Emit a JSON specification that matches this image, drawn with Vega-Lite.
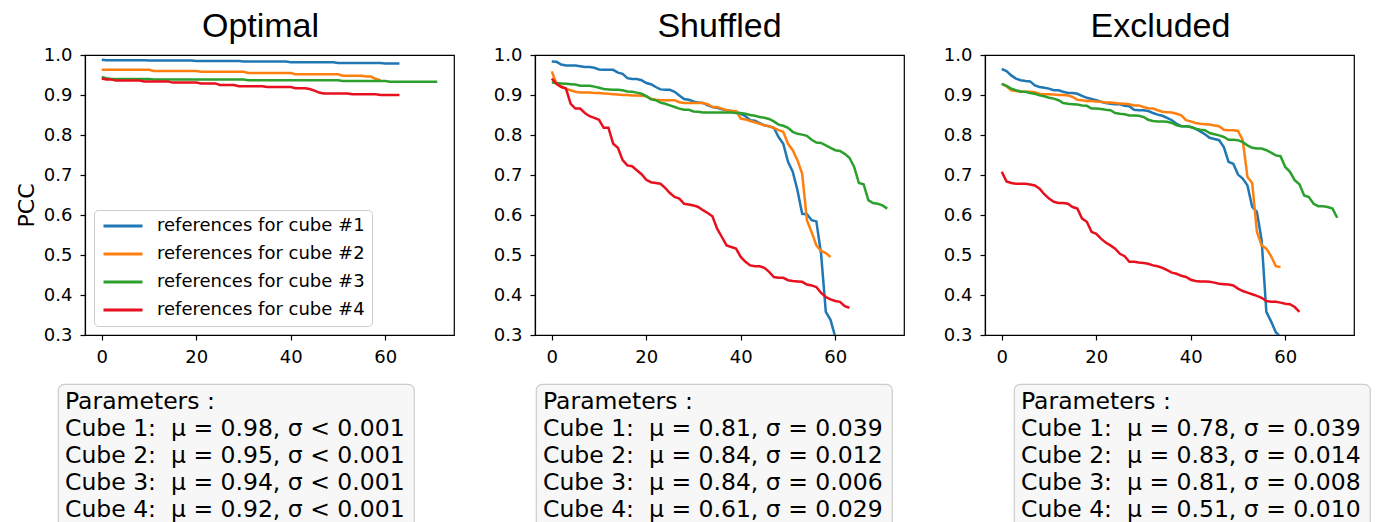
{
"$schema": "https://vega.github.io/schema/vega-lite/v6.json",
"padding": {"top": 9, "left": 13, "right": 0, "bottom": 0},
"config": {
 "font": "DejaVu Sans",
 "view": {"stroke": "black", "strokeWidth": 1.2},
 "axis": {"domainColor": "black", "domainWidth": 1.2, "tickColor": "black", "tickWidth": 1.2, "tickSize": 5, "labelFont": "DejaVu Sans", "labelFontSize": 18, "labelColor": "black", "labelPadding": 8, "labelFlush": false, "grid": false, "titleFont": "DejaVu Sans", "titleFontSize": 22, "titleFontWeight": "normal", "titleColor": "black"},
 "title": {"font": "Liberation Sans", "fontSize": 34, "fontWeight": "normal", "color": "black", "baseline": "alphabetic", "offset": 2}
},
"datasets": {
"lines": [
{"p":"O","i":0,"1":0.988,"2":0.963,"3":0.945,"4":0.941},
{"p":"O","i":1,"1":0.987,"2":0.963,"3":0.942,"4":0.939},
{"p":"O","i":2,"1":0.987,"2":0.963,"3":0.940,"4":0.939},
{"p":"O","i":3,"1":0.987,"2":0.963,"3":0.940,"4":0.936},
{"p":"O","i":4,"1":0.987,"2":0.963,"3":0.940,"4":0.936},
{"p":"O","i":5,"1":0.987,"2":0.963,"3":0.940,"4":0.936},
{"p":"O","i":6,"1":0.987,"2":0.963,"3":0.940,"4":0.936},
{"p":"O","i":7,"1":0.987,"2":0.963,"3":0.940,"4":0.936},
{"p":"O","i":8,"1":0.987,"2":0.963,"3":0.940,"4":0.936},
{"p":"O","i":9,"1":0.987,"2":0.963,"3":0.940,"4":0.934},
{"p":"O","i":10,"1":0.986,"2":0.963,"3":0.940,"4":0.934},
{"p":"O","i":11,"1":0.986,"2":0.960,"3":0.939,"4":0.934},
{"p":"O","i":12,"1":0.986,"2":0.960,"3":0.939,"4":0.934},
{"p":"O","i":13,"1":0.986,"2":0.960,"3":0.939,"4":0.934},
{"p":"O","i":14,"1":0.986,"2":0.960,"3":0.939,"4":0.934},
{"p":"O","i":15,"1":0.986,"2":0.960,"3":0.939,"4":0.931},
{"p":"O","i":16,"1":0.986,"2":0.960,"3":0.939,"4":0.931},
{"p":"O","i":17,"1":0.986,"2":0.960,"3":0.939,"4":0.931},
{"p":"O","i":18,"1":0.986,"2":0.960,"3":0.939,"4":0.931},
{"p":"O","i":19,"1":0.986,"2":0.960,"3":0.939,"4":0.931},
{"p":"O","i":20,"1":0.985,"2":0.960,"3":0.939,"4":0.931},
{"p":"O","i":21,"1":0.985,"2":0.958,"3":0.939,"4":0.929},
{"p":"O","i":22,"1":0.985,"2":0.958,"3":0.939,"4":0.929},
{"p":"O","i":23,"1":0.985,"2":0.958,"3":0.939,"4":0.929},
{"p":"O","i":24,"1":0.985,"2":0.958,"3":0.939,"4":0.929},
{"p":"O","i":25,"1":0.985,"2":0.958,"3":0.939,"4":0.925},
{"p":"O","i":26,"1":0.985,"2":0.958,"3":0.939,"4":0.925},
{"p":"O","i":27,"1":0.985,"2":0.958,"3":0.939,"4":0.925},
{"p":"O","i":28,"1":0.985,"2":0.958,"3":0.939,"4":0.925},
{"p":"O","i":29,"1":0.985,"2":0.958,"3":0.939,"4":0.922},
{"p":"O","i":30,"1":0.984,"2":0.958,"3":0.939,"4":0.922},
{"p":"O","i":31,"1":0.984,"2":0.955,"3":0.937,"4":0.922},
{"p":"O","i":32,"1":0.984,"2":0.955,"3":0.937,"4":0.922},
{"p":"O","i":33,"1":0.984,"2":0.955,"3":0.937,"4":0.922},
{"p":"O","i":34,"1":0.984,"2":0.955,"3":0.937,"4":0.922},
{"p":"O","i":35,"1":0.984,"2":0.955,"3":0.937,"4":0.920},
{"p":"O","i":36,"1":0.984,"2":0.955,"3":0.937,"4":0.920},
{"p":"O","i":37,"1":0.984,"2":0.955,"3":0.937,"4":0.920},
{"p":"O","i":38,"1":0.984,"2":0.955,"3":0.937,"4":0.920},
{"p":"O","i":39,"1":0.984,"2":0.955,"3":0.937,"4":0.920},
{"p":"O","i":40,"1":0.982,"2":0.955,"3":0.937,"4":0.920},
{"p":"O","i":41,"1":0.982,"2":0.952,"3":0.937,"4":0.917},
{"p":"O","i":42,"1":0.982,"2":0.952,"3":0.937,"4":0.917},
{"p":"O","i":43,"1":0.982,"2":0.952,"3":0.937,"4":0.917},
{"p":"O","i":44,"1":0.982,"2":0.952,"3":0.937,"4":0.915},
{"p":"O","i":45,"1":0.982,"2":0.952,"3":0.937,"4":0.911},
{"p":"O","i":46,"1":0.982,"2":0.952,"3":0.937,"4":0.906},
{"p":"O","i":47,"1":0.982,"2":0.952,"3":0.937,"4":0.904},
{"p":"O","i":48,"1":0.982,"2":0.952,"3":0.937,"4":0.904},
{"p":"O","i":49,"1":0.982,"2":0.952,"3":0.937,"4":0.904},
{"p":"O","i":50,"1":0.980,"2":0.952,"3":0.937,"4":0.904},
{"p":"O","i":51,"1":0.980,"2":0.948,"3":0.935,"4":0.904},
{"p":"O","i":52,"1":0.980,"2":0.948,"3":0.935,"4":0.904},
{"p":"O","i":53,"1":0.980,"2":0.948,"3":0.935,"4":0.902},
{"p":"O","i":54,"1":0.980,"2":0.948,"3":0.935,"4":0.902},
{"p":"O","i":55,"1":0.980,"2":0.948,"3":0.935,"4":0.902},
{"p":"O","i":56,"1":0.980,"2":0.946,"3":0.935,"4":0.902},
{"p":"O","i":57,"1":0.980,"2":0.946,"3":0.935,"4":0.902},
{"p":"O","i":58,"1":0.980,"2":0.940,"3":0.935,"4":0.902},
{"p":"O","i":59,"1":0.980,"2":0.937,"3":0.935,"4":0.900},
{"p":"O","i":60,"1":0.979,"3":0.935,"4":0.900},
{"p":"O","i":61,"1":0.979,"3":0.933,"4":0.900},
{"p":"O","i":62,"1":0.979,"3":0.933,"4":0.900},
{"p":"O","i":63,"1":0.979,"3":0.933,"4":0.900},
{"p":"O","i":64,"3":0.933},
{"p":"O","i":65,"3":0.933},
{"p":"O","i":66,"3":0.933},
{"p":"O","i":67,"3":0.933},
{"p":"O","i":68,"3":0.933},
{"p":"O","i":69,"3":0.933},
{"p":"O","i":70,"3":0.933},
{"p":"O","i":71,"3":0.933},
{"p":"S","i":0,"1":0.984,"2":0.959,"3":0.931,"4":0.941},
{"p":"S","i":1,"1":0.983,"2":0.928,"3":0.930,"4":0.928},
{"p":"S","i":2,"1":0.976,"2":0.922,"3":0.929,"4":0.920},
{"p":"S","i":3,"1":0.974,"2":0.916,"3":0.928,"4":0.916},
{"p":"S","i":4,"1":0.974,"2":0.912,"3":0.927,"4":0.878},
{"p":"S","i":5,"1":0.974,"2":0.908,"3":0.926,"4":0.866},
{"p":"S","i":6,"1":0.972,"2":0.906,"3":0.923,"4":0.866},
{"p":"S","i":7,"1":0.970,"2":0.906,"3":0.923,"4":0.855},
{"p":"S","i":8,"1":0.970,"2":0.906,"3":0.923,"4":0.847},
{"p":"S","i":9,"1":0.968,"2":0.905,"3":0.921,"4":0.843},
{"p":"S","i":10,"1":0.964,"2":0.905,"3":0.918,"4":0.838},
{"p":"S","i":11,"1":0.963,"2":0.904,"3":0.915,"4":0.818},
{"p":"S","i":12,"1":0.963,"2":0.903,"3":0.914,"4":0.818},
{"p":"S","i":13,"1":0.963,"2":0.902,"3":0.913,"4":0.778},
{"p":"S","i":14,"1":0.956,"2":0.901,"3":0.913,"4":0.768},
{"p":"S","i":15,"1":0.953,"2":0.900,"3":0.912,"4":0.737},
{"p":"S","i":16,"1":0.942,"2":0.900,"3":0.909,"4":0.724},
{"p":"S","i":17,"1":0.940,"2":0.899,"3":0.908,"4":0.722},
{"p":"S","i":18,"1":0.940,"2":0.899,"3":0.906,"4":0.712},
{"p":"S","i":19,"1":0.937,"2":0.898,"3":0.903,"4":0.702},
{"p":"S","i":20,"1":0.930,"2":0.897,"3":0.897,"4":0.688},
{"p":"S","i":21,"1":0.927,"2":0.891,"3":0.889,"4":0.682},
{"p":"S","i":22,"1":0.920,"2":0.888,"3":0.887,"4":0.680},
{"p":"S","i":23,"1":0.914,"2":0.887,"3":0.881,"4":0.678},
{"p":"S","i":24,"1":0.913,"2":0.887,"3":0.878,"4":0.668},
{"p":"S","i":25,"1":0.913,"2":0.887,"3":0.874,"4":0.655},
{"p":"S","i":26,"1":0.908,"2":0.887,"3":0.870,"4":0.645},
{"p":"S","i":27,"1":0.899,"2":0.882,"3":0.866,"4":0.641},
{"p":"S","i":28,"1":0.890,"2":0.880,"3":0.863,"4":0.628},
{"p":"S","i":29,"1":0.888,"2":0.880,"3":0.863,"4":0.626},
{"p":"S","i":30,"1":0.884,"2":0.880,"3":0.859,"4":0.624},
{"p":"S","i":31,"1":0.881,"2":0.880,"3":0.858,"4":0.620},
{"p":"S","i":32,"1":0.880,"2":0.880,"3":0.856,"4":0.612},
{"p":"S","i":33,"1":0.874,"2":0.877,"3":0.856,"4":0.605},
{"p":"S","i":34,"1":0.870,"2":0.870,"3":0.856,"4":0.597},
{"p":"S","i":35,"1":0.868,"2":0.870,"3":0.856,"4":0.566},
{"p":"S","i":36,"1":0.864,"2":0.866,"3":0.856,"4":0.545},
{"p":"S","i":37,"1":0.862,"2":0.862,"3":0.856,"4":0.524},
{"p":"S","i":38,"1":0.860,"2":0.860,"3":0.856,"4":0.520},
{"p":"S","i":39,"1":0.858,"2":0.860,"3":0.855,"4":0.516},
{"p":"S","i":40,"1":0.853,"2":0.841,"3":0.855,"4":0.495},
{"p":"S","i":41,"1":0.847,"2":0.839,"3":0.853,"4":0.483},
{"p":"S","i":42,"1":0.837,"2":0.835,"3":0.850,"4":0.474},
{"p":"S","i":43,"1":0.836,"2":0.832,"3":0.848,"4":0.472},
{"p":"S","i":44,"1":0.830,"2":0.828,"3":0.845,"4":0.472},
{"p":"S","i":45,"1":0.824,"2":0.824,"3":0.843,"4":0.468},
{"p":"S","i":46,"1":0.822,"2":0.822,"3":0.840,"4":0.458},
{"p":"S","i":47,"1":0.818,"2":0.818,"3":0.834,"4":0.445},
{"p":"S","i":48,"1":0.795,"2":0.812,"3":0.826,"4":0.443},
{"p":"S","i":49,"1":0.778,"2":0.808,"3":0.823,"4":0.443},
{"p":"S","i":50,"1":0.733,"2":0.778,"3":0.818,"4":0.437},
{"p":"S","i":51,"1":0.708,"2":0.762,"3":0.808,"4":0.435},
{"p":"S","i":52,"1":0.662,"2":0.737,"3":0.803,"4":0.434},
{"p":"S","i":53,"1":0.603,"2":0.703,"3":0.801,"4":0.433},
{"p":"S","i":54,"1":0.602,"2":0.587,"3":0.798,"4":0.426},
{"p":"S","i":55,"1":0.587,"2":0.557,"3":0.788,"4":0.424},
{"p":"S","i":56,"1":0.584,"2":0.524,"3":0.781,"4":0.420},
{"p":"S","i":57,"1":0.503,"2":0.510,"3":0.780,"4":0.405},
{"p":"S","i":58,"1":0.358,"2":0.505,"3":0.774,"4":0.395},
{"p":"S","i":59,"1":0.338,"2":0.495,"3":0.768,"4":0.389},
{"p":"S","i":60,"1":0.295,"3":0.762,"4":0.385},
{"p":"S","i":61,"1":0.280,"3":0.760,"4":0.383},
{"p":"S","i":62,"1":0.260,"3":0.753,"4":0.372},
{"p":"S","i":63,"1":0.240,"3":0.743,"4":0.368},
{"p":"S","i":64,"3":0.720},
{"p":"S","i":65,"3":0.680},
{"p":"S","i":66,"3":0.677},
{"p":"S","i":67,"3":0.637},
{"p":"S","i":68,"3":0.630},
{"p":"S","i":69,"3":0.628},
{"p":"S","i":70,"3":0.624},
{"p":"S","i":71,"3":0.616},
{"p":"E","i":0,"1":0.965,"2":0.928,"3":0.928,"4":0.708},
{"p":"E","i":1,"1":0.960,"2":0.922,"3":0.923,"4":0.684},
{"p":"E","i":2,"1":0.949,"2":0.912,"3":0.916,"4":0.680},
{"p":"E","i":3,"1":0.941,"2":0.910,"3":0.912,"4":0.678},
{"p":"E","i":4,"1":0.937,"2":0.908,"3":0.909,"4":0.678},
{"p":"E","i":5,"1":0.935,"2":0.908,"3":0.908,"4":0.678},
{"p":"E","i":6,"1":0.934,"2":0.908,"3":0.905,"4":0.676},
{"p":"E","i":7,"1":0.924,"2":0.907,"3":0.903,"4":0.674},
{"p":"E","i":8,"1":0.920,"2":0.903,"3":0.899,"4":0.666},
{"p":"E","i":9,"1":0.918,"2":0.902,"3":0.897,"4":0.652},
{"p":"E","i":10,"1":0.916,"2":0.902,"3":0.893,"4":0.641},
{"p":"E","i":11,"1":0.912,"2":0.901,"3":0.891,"4":0.633},
{"p":"E","i":12,"1":0.912,"2":0.900,"3":0.887,"4":0.630},
{"p":"E","i":13,"1":0.908,"2":0.900,"3":0.880,"4":0.630},
{"p":"E","i":14,"1":0.905,"2":0.899,"3":0.878,"4":0.628},
{"p":"E","i":15,"1":0.905,"2":0.895,"3":0.877,"4":0.620},
{"p":"E","i":16,"1":0.903,"2":0.888,"3":0.876,"4":0.616},
{"p":"E","i":17,"1":0.898,"2":0.887,"3":0.874,"4":0.591},
{"p":"E","i":18,"1":0.893,"2":0.885,"3":0.873,"4":0.583},
{"p":"E","i":19,"1":0.890,"2":0.885,"3":0.866,"4":0.558},
{"p":"E","i":20,"1":0.887,"2":0.884,"3":0.866,"4":0.553},
{"p":"E","i":21,"1":0.883,"2":0.883,"3":0.865,"4":0.541},
{"p":"E","i":22,"1":0.880,"2":0.881,"3":0.863,"4":0.531},
{"p":"E","i":23,"1":0.878,"2":0.881,"3":0.862,"4":0.524},
{"p":"E","i":24,"1":0.877,"2":0.880,"3":0.855,"4":0.516},
{"p":"E","i":25,"1":0.877,"2":0.879,"3":0.853,"4":0.503},
{"p":"E","i":26,"1":0.873,"2":0.878,"3":0.852,"4":0.497},
{"p":"E","i":27,"1":0.872,"2":0.877,"3":0.849,"4":0.483},
{"p":"E","i":28,"1":0.863,"2":0.874,"3":0.849,"4":0.483},
{"p":"E","i":29,"1":0.862,"2":0.874,"3":0.848,"4":0.481},
{"p":"E","i":30,"1":0.862,"2":0.870,"3":0.845,"4":0.480},
{"p":"E","i":31,"1":0.860,"2":0.867,"3":0.838,"4":0.478},
{"p":"E","i":32,"1":0.855,"2":0.866,"3":0.835,"4":0.474},
{"p":"E","i":33,"1":0.851,"2":0.862,"3":0.834,"4":0.472},
{"p":"E","i":34,"1":0.848,"2":0.858,"3":0.834,"4":0.468},
{"p":"E","i":35,"1":0.843,"2":0.857,"3":0.833,"4":0.462},
{"p":"E","i":36,"1":0.837,"2":0.856,"3":0.830,"4":0.456},
{"p":"E","i":37,"1":0.828,"2":0.853,"3":0.824,"4":0.453},
{"p":"E","i":38,"1":0.822,"2":0.849,"3":0.822,"4":0.448},
{"p":"E","i":39,"1":0.822,"2":0.837,"3":0.822,"4":0.445},
{"p":"E","i":40,"1":0.820,"2":0.834,"3":0.820,"4":0.438},
{"p":"E","i":41,"1":0.816,"2":0.830,"3":0.816,"4":0.435},
{"p":"E","i":42,"1":0.809,"2":0.828,"3":0.813,"4":0.434},
{"p":"E","i":43,"1":0.802,"2":0.827,"3":0.812,"4":0.434},
{"p":"E","i":44,"1":0.793,"2":0.826,"3":0.805,"4":0.433},
{"p":"E","i":45,"1":0.790,"2":0.824,"3":0.802,"4":0.431},
{"p":"E","i":46,"1":0.787,"2":0.822,"3":0.799,"4":0.428},
{"p":"E","i":47,"1":0.770,"2":0.813,"3":0.795,"4":0.427},
{"p":"E","i":48,"1":0.733,"2":0.812,"3":0.788,"4":0.426},
{"p":"E","i":49,"1":0.728,"2":0.812,"3":0.788,"4":0.424},
{"p":"E","i":50,"1":0.701,"2":0.810,"3":0.787,"4":0.416},
{"p":"E","i":51,"1":0.691,"2":0.787,"3":0.782,"4":0.410},
{"p":"E","i":52,"1":0.674,"2":0.695,"3":0.774,"4":0.406},
{"p":"E","i":53,"1":0.620,"2":0.680,"3":0.768,"4":0.402},
{"p":"E","i":54,"1":0.608,"2":0.558,"3":0.766,"4":0.398},
{"p":"E","i":55,"1":0.537,"2":0.524,"3":0.766,"4":0.393},
{"p":"E","i":56,"1":0.358,"2":0.516,"3":0.762,"4":0.385},
{"p":"E","i":57,"1":0.334,"2":0.497,"3":0.756,"4":0.383},
{"p":"E","i":58,"1":0.307,"2":0.472,"3":0.749,"4":0.383},
{"p":"E","i":59,"1":0.295,"2":0.470,"3":0.747,"4":0.381},
{"p":"E","i":60,"1":0.280,"3":0.720,"4":0.378},
{"p":"E","i":61,"1":0.260,"3":0.708,"4":0.377},
{"p":"E","i":62,"1":0.250,"3":0.687,"4":0.370},
{"p":"E","i":63,"1":0.230,"3":0.677,"4":0.358},
{"p":"E","i":64,"3":0.649},
{"p":"E","i":65,"3":0.645},
{"p":"E","i":66,"3":0.628},
{"p":"E","i":67,"3":0.622},
{"p":"E","i":68,"3":0.622},
{"p":"E","i":69,"3":0.620},
{"p":"E","i":70,"3":0.616},
{"p":"E","i":71,"3":0.593}
],
"params": [
{"p":"O","r":0,"t":"Parameters :"},
{"p":"O","r":1,"t":"Cube 1:\u00a0 μ = 0.98, σ < 0.001"},
{"p":"O","r":2,"t":"Cube 2:\u00a0 μ = 0.95, σ < 0.001"},
{"p":"O","r":3,"t":"Cube 3:\u00a0 μ = 0.94, σ < 0.001"},
{"p":"O","r":4,"t":"Cube 4:\u00a0 μ = 0.92, σ < 0.001"},
{"p":"S","r":0,"t":"Parameters :"},
{"p":"S","r":1,"t":"Cube 1:\u00a0 μ = 0.81, σ = 0.039"},
{"p":"S","r":2,"t":"Cube 2:\u00a0 μ = 0.84, σ = 0.012"},
{"p":"S","r":3,"t":"Cube 3:\u00a0 μ = 0.84, σ = 0.006"},
{"p":"S","r":4,"t":"Cube 4:\u00a0 μ = 0.61, σ = 0.029"},
{"p":"E","r":0,"t":"Parameters :"},
{"p":"E","r":1,"t":"Cube 1:\u00a0 μ = 0.78, σ = 0.039"},
{"p":"E","r":2,"t":"Cube 2:\u00a0 μ = 0.83, σ = 0.014"},
{"p":"E","r":3,"t":"Cube 3:\u00a0 μ = 0.81, σ = 0.008"},
{"p":"E","r":4,"t":"Cube 4:\u00a0 μ = 0.51, σ = 0.010"}
]
},
"spacing": 16,
"vconcat": [
{
 "spacing": 0,
 "hconcat": [
 {
  "width": 1, "height": 10,
  "data": {"values": []},
  "mark": "point",
  "encoding": {},
  "view": {"stroke": null, "fill": "white"}
 },
 {
 "spacing": 37,
 "resolve": {"scale": {"color": "independent", "x": "independent", "y": "independent"}, "legend": {"color": "independent"}},
 "hconcat": [
 {
  "width": 369, "height": 280,
  "title": {"text": "Optimal", "dx": -9},
  "data": {"name": "lines"},
  "transform": [{"filter": "datum.p == 'O'"}, {"fold": ["1","2","3","4"], "as": ["cube","v"]}, {"filter": "isValid(datum.v)"}],
  "mark": {"type": "line", "strokeWidth": 2.5, "clip": true},
  "encoding": {
   "x": {"field": "i", "type": "quantitative", "scale": {"domain": [-3.55, 74.55], "nice": false, "zero": false}, "axis": {"values": [0,20,40,60], "title": null}},
   "y": {"field": "v", "type": "quantitative", "scale": {"domain": [0.3, 1.0], "nice": false, "zero": false}, "axis": {"values": [0.3,0.4,0.5,0.6,0.7,0.8,0.9,1.0], "format": ".1f", "title": "PCC", "titlePadding": 5, "titleY": 150}},
   "color": {"field": "cube", "type": "nominal", "scale": {"domain": ["1","2","3","4"], "range": ["#1f77b4","#ff7f0e","#2ca02c","#e8101e"]},
    "legend": {"orient": "bottom-left", "offset": 9, "title": null, "fillColor": "white", "strokeColor": "#cccccc", "cornerRadius": 4, "padding": 7, "symbolType": "M-1,0H5", "symbolStrokeWidth": 3, "symbolSize": 169, "labelFontSize": 18, "labelFont": "DejaVu Sans", "labelColor": "black", "labelOffset": 38, "labelLimit": 400, "rowPadding": 10, "labelExpr": "'references for cube #' + datum.label"}}
  }
 },
 {
  "width": 369, "height": 280,
  "title": {"text": "Shuffled"},
  "data": {"name": "lines"},
  "transform": [{"filter": "datum.p == 'S'"}, {"fold": ["1","2","3","4"], "as": ["cube","v"]}, {"filter": "isValid(datum.v)"}],
  "mark": {"type": "line", "strokeWidth": 2.5, "clip": true},
  "encoding": {
   "x": {"field": "i", "type": "quantitative", "scale": {"domain": [-3.55, 74.55], "nice": false, "zero": false}, "axis": {"values": [0,20,40,60], "title": null}},
   "y": {"field": "v", "type": "quantitative", "scale": {"domain": [0.3, 1.0], "nice": false, "zero": false}, "axis": {"values": [0.3,0.4,0.5,0.6,0.7,0.8,0.9,1.0], "format": ".1f", "title": null}},
   "color": {"field": "cube", "type": "nominal", "scale": {"domain": ["1","2","3","4"], "range": ["#1f77b4","#ff7f0e","#2ca02c","#e8101e"]}, "legend": null}
  }
 },
 {
  "width": 369, "height": 280,
  "title": {"text": "Excluded", "dx": -9},
  "data": {"name": "lines"},
  "transform": [{"filter": "datum.p == 'E'"}, {"fold": ["1","2","3","4"], "as": ["cube","v"]}, {"filter": "isValid(datum.v)"}],
  "mark": {"type": "line", "strokeWidth": 2.5, "clip": true},
  "encoding": {
   "x": {"field": "i", "type": "quantitative", "scale": {"domain": [-3.55, 74.55], "nice": false, "zero": false}, "axis": {"values": [0,20,40,60], "title": null}},
   "y": {"field": "v", "type": "quantitative", "scale": {"domain": [0.3, 1.0], "nice": false, "zero": false}, "axis": {"values": [0.3,0.4,0.5,0.6,0.7,0.8,0.9,1.0], "format": ".1f", "title": null}},
   "color": {"field": "cube", "type": "nominal", "scale": {"domain": ["1","2","3","4"], "range": ["#1f77b4","#ff7f0e","#2ca02c","#e8101e"]}, "legend": null}
  }
 }
 ]
 }
 ]
},
{
 "spacing": 0,
 "hconcat": [
 {
  "width": 44, "height": 10,
  "data": {"values": []},
  "mark": "point",
  "encoding": {},
  "view": {"stroke": null, "fill": "white"}
 },
 {
  "spacing": 120,
  "resolve": {"scale": {"x": "independent", "y": "independent"}},
  "hconcat": [
  {
   "width": 356, "height": 158,
   "data": {"name": "params"},
   "transform": [{"filter": "datum.p == 'O'"}],
   "mark": {"type": "text", "align": "left", "baseline": "alphabetic", "font": "DejaVu Sans", "fontSize": 23.5, "color": "black", "dx": 7},
   "encoding": {
    "x": {"datum": 0, "type": "quantitative", "scale": {"domain": [0, 1]}, "axis": null},
    "y": {"field": "r", "type": "ordinal", "scale": {"type": "point", "padding": 0.9}, "axis": null},
    "text": {"field": "t"}
   },
   "view": {"fill": "#f7f7f7", "stroke": "#cccccc", "strokeWidth": 1.2, "cornerRadius": 6}
  },
  {
   "width": 356, "height": 158,
   "data": {"name": "params"},
   "transform": [{"filter": "datum.p == 'S'"}],
   "mark": {"type": "text", "align": "left", "baseline": "alphabetic", "font": "DejaVu Sans", "fontSize": 23.5, "color": "black", "dx": 7},
   "encoding": {
    "x": {"datum": 0, "type": "quantitative", "scale": {"domain": [0, 1]}, "axis": null},
    "y": {"field": "r", "type": "ordinal", "scale": {"type": "point", "padding": 0.9}, "axis": null},
    "text": {"field": "t"}
   },
   "view": {"fill": "#f7f7f7", "stroke": "#cccccc", "strokeWidth": 1.2, "cornerRadius": 6}
  },
  {
   "width": 356, "height": 158,
   "data": {"name": "params"},
   "transform": [{"filter": "datum.p == 'E'"}],
   "mark": {"type": "text", "align": "left", "baseline": "alphabetic", "font": "DejaVu Sans", "fontSize": 23.5, "color": "black", "dx": 7},
   "encoding": {
    "x": {"datum": 0, "type": "quantitative", "scale": {"domain": [0, 1]}, "axis": null},
    "y": {"field": "r", "type": "ordinal", "scale": {"type": "point", "padding": 0.9}, "axis": null},
    "text": {"field": "t"}
   },
   "view": {"fill": "#f7f7f7", "stroke": "#cccccc", "strokeWidth": 1.2, "cornerRadius": 6}
  }
  ]
 }
 ]
}
]
}
